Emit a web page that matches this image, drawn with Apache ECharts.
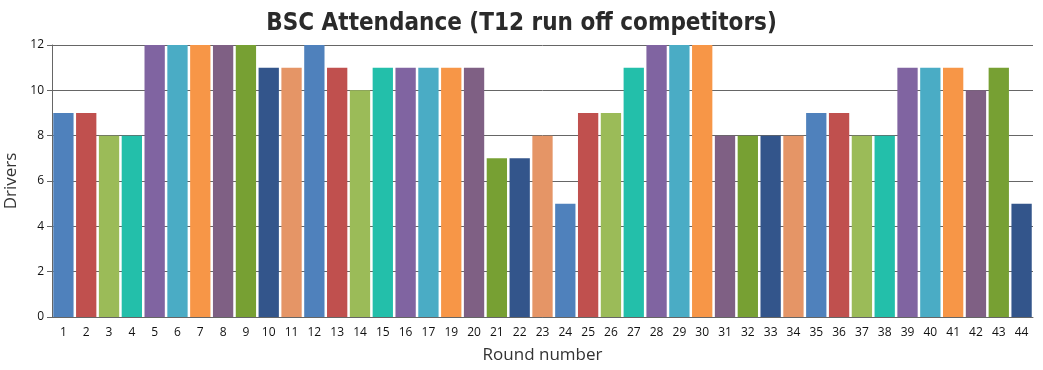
<!DOCTYPE html>
<html><head><meta charset="utf-8">
<script src="https://cdn.jsdelivr.net/npm/echarts@6/dist/echarts.min.js"></script>
<style>html,body{margin:0;padding:0;background:#fff}#c{width:1043px;height:370px}</style>
</head><body><div id="c"></div>
<script>
const rounds = ['1','2','3','4','5','6','7','8','9','10','11','12','13','14','15','16','17','19','20','21','22','23','24','25','26','27','28','29','30','31','32','33','34','35','36','37','38','39','40','41','42','43','44'];
const drivers = [9,9,8,8,12,12,12,12,12,11,11,12,11,10,11,11,11,11,11,7,7,8,5,9,9,11,12,12,12,8,8,8,8,9,9,8,8,11,11,11,10,11,5];
const palette = ['#4F81BC','#C0504E','#9BBB58','#23BFAA','#8064A1','#4AACC5','#F79647','#7F6084','#77A033','#33558B','#E59566'];
const yTicks = [0,2,4,6,8,10,12];

const chart = echarts.init(document.getElementById('c'));
const labelFont = "'Segoe UI', 'Open Sans', 'Noto Sans', sans-serif";
chart.setOption({
  animation: false,
  color: palette,
  title: {
    text: 'BSC Attendance (T12 run off competitors)',
    left: 'center', top: 7,
    textStyle: {fontFamily: "'DejaVu Sans Condensed'", fontWeight: 'bold', fontSize: 24, color: '#2a2a2a'}
  },
  grid: {left: 52, right: 10, top: 45, bottom: 53, outerBoundsMode: 'none', containLabel: false},
  xAxis: {
    type: 'category', data: rounds,
    name: 'Round number', nameLocation: 'middle', nameGap: 30,
    nameTextStyle: {fontFamily: labelFont, fontSize: 17, color: '#333'},
    axisLine: {lineStyle: {color: '#666', width: 1}},
    axisTick: {alignWithLabel: true, length: 5, lineStyle: {color: '#666'}},
    axisLabel: {interval: 0, fontFamily: labelFont, fontSize: 12, color: '#111', margin: 10}
  },
  yAxis: {
    type: 'value', min: yTicks[0], max: yTicks[yTicks.length-1], interval: 2,
    name: 'Drivers', nameLocation: 'middle', nameGap: 29,
    nameTextStyle: {fontFamily: labelFont, fontSize: 17, color: '#333'},
    axisLine: {show: true, lineStyle: {color: '#666', width: 1}},
    axisTick: {show: true, length: 5, lineStyle: {color: '#666'}},
    axisLabel: {fontFamily: labelFont, fontSize: 12, color: '#111', margin: 8},
    splitLine: {lineStyle: {color: '#666', width: 1}}
  },
  series: [{
    type: 'bar', data: drivers, colorBy: 'data',
    barCategoryGap: '11%'
  }]
});
</script></body></html>
